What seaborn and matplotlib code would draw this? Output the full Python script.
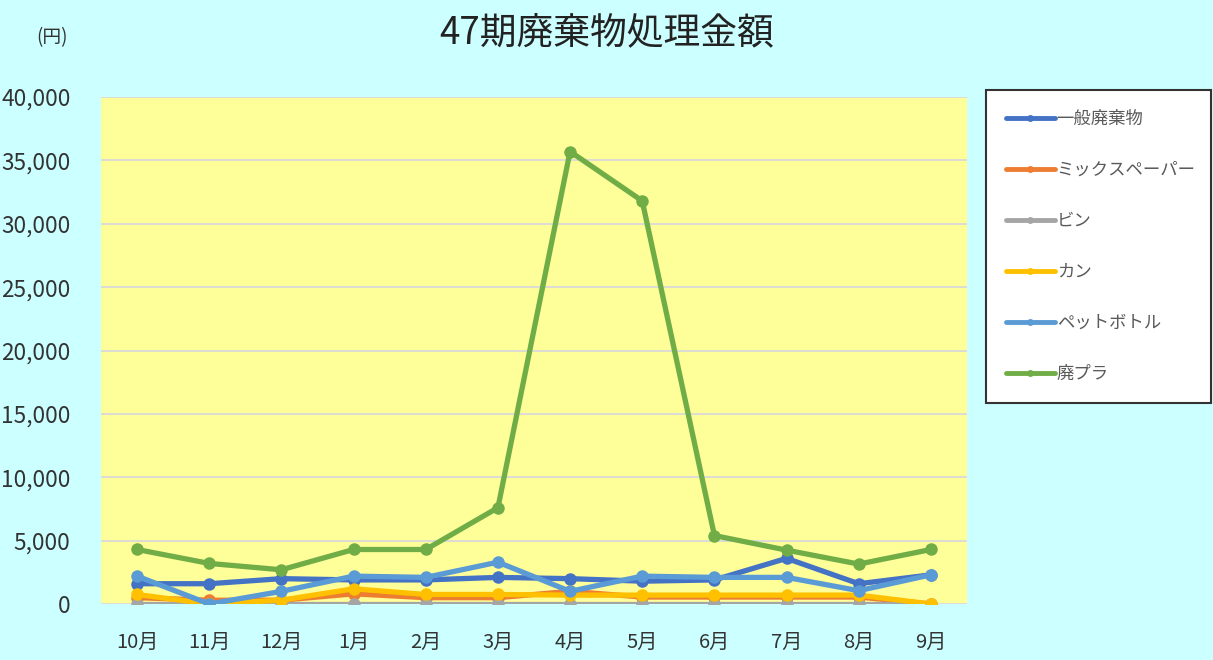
import matplotlib
matplotlib.use("Agg")
import matplotlib.pyplot as plt
import matplotlib.ticker as mticker
import seaborn as sns
import pandas as pd
import numpy as np

months = ["10月", "11月", "12月", "1月", "2月", "3月", "4月", "5月", "6月", "7月", "8月", "9月"]
series_names = ["一般廃棄物", "ミックスペーパー", "ビン", "カン", "ペットボトル", "廃プラ"]
ippan = [1600, 1600, 2000, 1900, 1900, 2100, 2000, 1800, 1900, 3600, 1600, 2300]
mix_paper = [500, 300, 300, 800, 500, 500, 1000, 550, 550, 550, 550, 0]
bin_ = [0, 0, 0, 0, 0, 0, 0, 0, 0, 0, 0, 0]
kan = [750, 0, 300, 1200, 750, 750, 700, 700, 700, 700, 700, 0]
pet = [2200, 0, 1000, 2200, 2100, 3300, 1000, 2200, 2100, 2100, 1050, 2300]
haipura = [4300, 3200, 2700, 4300, 4300, 7600, 35700, 31800, 5400, 4250, 3150, 4300]
colors = ["#4472C4", "#ED7D31", "#A5A5A5", "#FFC000", "#5B9BD5", "#70AD47"]

values = [ippan, mix_paper, bin_, kan, pet, haipura]
rows = []
for name, vals in zip(series_names, values):
    for m, v in zip(months, vals):
        rows.append({"月": m, "金額": v, "種類": name})
df = pd.DataFrame(rows)

sns.set_style("white")
plt.rcParams["font.family"] = ["Noto Sans CJK JP", "DejaVu Sans"]

fig = plt.figure(figsize=(12.13, 6.6), dpi=100)
fig.patch.set_facecolor("#CCFFFF")
ax = fig.add_axes([101 / 1213, 56 / 660, 866 / 1213, 507 / 660])
ax.set_facecolor("#FFFF99")

sns.lineplot(data=df, x="月", y="金額", hue="種類", hue_order=series_names,
             palette=colors, marker="o", markersize=9, markeredgewidth=0,
             linewidth=3.8, sort=False, ax=ax)

ax.set_xlim(-0.5, len(months) - 0.5)
ax.set_ylim(0, 40000)
ax.yaxis.set_major_locator(mticker.MultipleLocator(5000))
ax.yaxis.set_major_formatter(mticker.FuncFormatter(lambda v, p: f"{int(v):,}"))
ax.grid(axis="y", color="#D9D9D9", linewidth=1.3)
ax.set_axisbelow(True)
for s in ax.spines.values():
    s.set_visible(False)
ax.tick_params(axis="y", length=0, pad=22, labelsize=16.3, labelcolor="#333333")
ax.tick_params(axis="x", length=0, pad=20, labelsize=14.5, labelcolor="#333333")
ax.set_xlabel("")
ax.set_ylabel("")

fig.text(607 / 1213, 1 - 33 / 660, "47期廃棄物処理金額", ha="center", va="center",
         fontsize=26.5, color="#222222")
fig.text(52 / 1213, 1 - 38 / 660, "(円)", ha="center", va="center",
         fontsize=13.5, color="#333333")

handles, labels = ax.get_legend_handles_labels()
ax.get_legend().remove()
leg = fig.legend(handles, labels, loc="upper left",
                 bbox_to_anchor=(986 / 1213, 1 - 90 / 660, 225 / 1213, 0.0),
                 mode="expand", frameon=True, fancybox=False, fontsize=12.5,
                 framealpha=1, labelspacing=1.9, handlelength=2.8,
                 handletextpad=0.12, borderpad=1.15, borderaxespad=0)
leg.get_frame().set_edgecolor("#333333")
leg.get_frame().set_linewidth(1.5)
leg.get_frame().set_facecolor("white")
for h in leg.legend_handles:
    h.set_markersize(5)
    h.set_linewidth(3.5)
for t in leg.get_texts():
    t.set_color("#595959")

fig.savefig("out.png", dpi=100, facecolor=fig.get_facecolor())
